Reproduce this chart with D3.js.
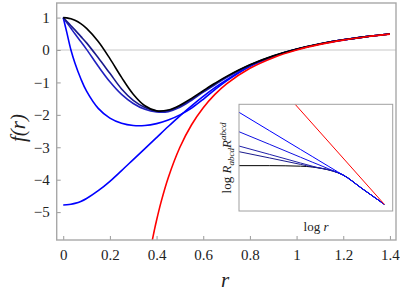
<!DOCTYPE html>
<html>
<head>
<meta charset="utf-8">
<script src="https://cdn.jsdelivr.net/npm/d3@7"></script>
<style>
  body { margin: 0; background: #fff; }
  text { font-family: "Liberation Serif", "DejaVu Serif", serif; fill: #222; }
</style>
</head>
<body>
<script>
// main plot data, f(r)
var rValues = [0, 0.015, 0.033, 0.05, 0.075, 0.1, 0.15, 0.2, 0.25, 0.3, 0.35, 0.4, 0.45, 0.5, 0.55, 0.6, 0.65, 0.7, 0.8, 0.9, 1.0, 1.1, 1.2, 1.3, 1.4]
var blackF = [1, 0.992, 0.964, 0.917, 0.813, 0.668, 0.262, -0.266, -0.844, -1.362, -1.72, -1.878, -1.852, -1.703, -1.49, -1.256, -1.026, -0.814, -0.456, -0.181, 0.029, 0.19, 0.315, 0.414, 0.494]
var blue3F = [1, 0.885, 0.75, 0.62, 0.42, 0.22, -0.24, -0.72, -1.2, -1.55, -1.77, -1.88, -1.87, -1.735, -1.52, -1.28, -1.05, -0.83, -0.465, -0.186, 0.026, 0.188, 0.314, 0.413, 0.493]
var blue2F = [1, 0.85, 0.67, 0.5, 0.26, 0.02, -0.5, -0.98, -1.37, -1.65, -1.83, -1.91, -1.9, -1.77, -1.55, -1.3, -1.07, -0.85, -0.47, -0.19, 0.024, 0.187, 0.313, 0.412, 0.493]
var blue1F = [1, 0.55, 0.0, -0.4, -0.88, -1.27, -1.8, -2.1, -2.26, -2.33, -2.33, -2.27, -2.16, -2.0, -1.79, -1.52, -1.22, -0.95, -0.5, -0.2, 0.02, 0.185, 0.312, 0.412, 0.492]
var blue0F = [-4.78, -4.775, -4.76, -4.73, -4.67, -4.58, -4.34, -4.05, -3.72, -3.38, -3.04, -2.7, -2.36, -2.03, -1.72, -1.43, -1.16, -0.92, -0.5, -0.2, 0.02, 0.185, 0.312, 0.412, 0.492]
var redR = [0.375, 0.38, 0.39, 0.4, 0.42, 0.45, 0.5, 0.55, 0.6, 0.65, 0.7, 0.8, 0.9, 1.0, 1.1, 1.2, 1.3, 1.4]
var redF = [-6.11, -5.925, -5.575, -5.25, -4.669, -3.938, -3, -2.306, -1.778, -1.367, -1.041, -0.5625, -0.235, 0, 0.174, 0.306, 0.408, 0.49]

var xTicks = [0, 0.2, 0.4, 0.6, 0.8, 1, 1.2, 1.4]
var yTicks = [1, 0, -1, -2, -3, -4, -5]

// inset data, log r vs log Kretschmann
var insetLogR = [-2, -1.5, -1.0, -0.8, -0.7, -0.55, -0.4, -0.309, 0, 0.363]
var insetBlack = [4.25, 4.25, 4.2, 4.12, 4.03, 3.86, 3.6, 3.38, 2.11, 0.63]
var insetBlue4 = [5.56, 4.97, 4.37, 4.13, 4.05, 3.87, 3.61, 3.38, 2.11, 0.63]
var insetBlue3 = [6.09, 5.3, 4.5, 4.19, 4.04, 3.88, 3.61, 3.38, 2.11, 0.63]
var insetBlue2 = [7.43, 6.24, 5.04, 4.56, 4.33, 3.97, 3.62, 3.38, 2.11, 0.63]
var insetBlue1 = [9.25, 7.51, 5.77, 5.08, 4.73, 4.21, 3.69, 3.38, 2.11, 0.63]
var insetRedR = [-1.2, 0.363]
var insetRed = [10.73, 0.63]

var width = 400, height = 294

var svg = d3.select('body').append('svg')
    .attr('width', width)
    .attr('height', height)

var x = d3.scaleLinear().domain([-0.028, 1.426]).range([56.7, 396])
var y = d3.scaleLinear().domain([-5.86, 1.45]).range([240, 3])

svg.append('clipPath').attr('id', 'plotClip')
    .append('rect')
    .attr('x', 56.7).attr('y', 3)
    .attr('width', 396 - 56.7).attr('height', 237)

// zero line
svg.append('line')
    .attr('x1', 56.7).attr('x2', 396)
    .attr('y1', y(0)).attr('y2', y(0))
    .attr('stroke', '#c8c8c8').attr('stroke-width', 1)

var line = d3.line()
    .x(d => x(d[0]))
    .y(d => y(d[1]))
    .curve(d3.curveCatmullRom.alpha(0.5))

var series = [
    { f: blue0F, color: '#0000ff' },
    { f: blue1F, color: '#0000ff' },
    { f: blue2F, color: '#2020c0' },
    { f: blue3F, color: '#1a1a8c' },
    { f: blackF, color: '#000000' }
]

var curves = svg.append('g').attr('clip-path', 'url(#plotClip)')

curves.selectAll('path.curve')
    .data(series)
    .enter()
    .append('path')
    .attr('class', 'curve')
    .attr('d', s => line(rValues.map((r, i) => [r, s.f[i]])))
    .attr('fill', 'none')
    .attr('stroke', s => s.color)
    .attr('stroke-width', 1.6)

curves.append('path')
    .attr('d', line(redR.map((r, i) => [r, redF[i]])))
    .attr('fill', 'none')
    .attr('stroke', '#ff0000')
    .attr('stroke-width', 1.6)

// axes with inward ticks
var fmt = d3.format('')

var xAxis = svg.append('g')
    .attr('transform', 'translate(0,240)')
    .call(d3.axisBottom(x).tickValues(xTicks).tickFormat(fmt).tickSize(-4).tickPadding(9))
xAxis.select('.domain').remove()

var yAxis = svg.append('g')
    .attr('transform', 'translate(56.7,0)')
    .call(d3.axisLeft(y).tickValues(yTicks).tickFormat(fmt).tickSize(-4).tickPadding(7))
yAxis.select('.domain').remove()

svg.selectAll('.tick line').attr('stroke', '#9a9a9a').attr('stroke-width', 1)
svg.selectAll('.tick text')
    .attr('font-family', null)
    .style('font-family', '"Liberation Serif", "DejaVu Serif", serif')
    .style('font-size', '15px')
    .attr('fill', '#222')

// frame
svg.append('rect')
    .attr('x', 56.7).attr('y', 3)
    .attr('width', 396 - 56.7).attr('height', 237)
    .attr('fill', 'none')
    .attr('stroke', '#a8a8a8')
    .attr('stroke-width', 1.4)

// axis titles
svg.append('text')
    .attr('transform', 'translate(25,128) rotate(-90)')
    .attr('text-anchor', 'middle')
    .style('font-size', '21px')
    .style('font-style', 'italic')
    .text('f(r)')

svg.append('text')
    .attr('x', 225).attr('y', 287)
    .attr('text-anchor', 'middle')
    .style('font-size', '21px')
    .style('font-style', 'italic')
    .text('r')

// inset
var ix = d3.scaleLinear().domain([-2, 0.5]).range([239, 392.7])
var iy = d3.scaleLinear().domain([0, 10]).range([211, 104.3])

svg.append('rect')
    .attr('x', 239).attr('y', 104.3)
    .attr('width', 392.7 - 239).attr('height', 211 - 104.3)
    .attr('fill', '#fff')

svg.append('clipPath').attr('id', 'insetClip')
    .append('rect')
    .attr('x', 239).attr('y', 104.3)
    .attr('width', 392.7 - 239).attr('height', 211 - 104.3)

var iline = d3.line()
    .x(d => ix(d[0]))
    .y(d => iy(d[1]))
    .curve(d3.curveMonotoneX)

var insetSeries = [
    { k: insetBlack, color: '#000000' },
    { k: insetBlue4, color: '#1a1a8c' },
    { k: insetBlue3, color: '#2020a8' },
    { k: insetBlue2, color: '#1010e0' },
    { k: insetBlue1, color: '#0000ff' }
]

var insetG = svg.append('g').attr('clip-path', 'url(#insetClip)')

insetG.selectAll('path.iline')
    .data(insetSeries)
    .enter()
    .append('path')
    .attr('class', 'iline')
    .attr('d', s => iline(insetLogR.map((r, i) => [r, s.k[i]])))
    .attr('fill', 'none')
    .attr('stroke', s => s.color)
    .attr('stroke-width', 1)

insetG.append('path')
    .attr('d', iline(insetRedR.map((r, i) => [r, insetRed[i]])))
    .attr('fill', 'none')
    .attr('stroke', '#ff0000')
    .attr('stroke-width', 1)

svg.append('rect')
    .attr('x', 239).attr('y', 104.3)
    .attr('width', 392.7 - 239).attr('height', 211 - 104.3)
    .attr('fill', 'none')
    .attr('stroke', '#a0a0a0')
    .attr('stroke-width', 1)

// inset labels
var xl = svg.append('text')
    .attr('x', 316).attr('y', 231)
    .attr('text-anchor', 'middle')
    .style('font-size', '13px')
xl.append('tspan').text('log ')
xl.append('tspan').style('font-style', 'italic').text('r')

var yl = svg.append('text')
    .attr('transform', 'translate(231,158) rotate(-90)')
    .attr('text-anchor', 'middle')
    .style('font-size', '13px')
yl.append('tspan').text('log ')
yl.append('tspan').style('font-style', 'italic').text('R')
yl.append('tspan').style('font-style', 'italic').style('font-size', '9px').attr('dy', 3).text('abcd')
yl.append('tspan').style('font-style', 'italic').attr('dy', -3).text('R')
yl.append('tspan').style('font-style', 'italic').style('font-size', '9px').attr('dy', -5).text('abcd')
</script>
</body>
</html>
